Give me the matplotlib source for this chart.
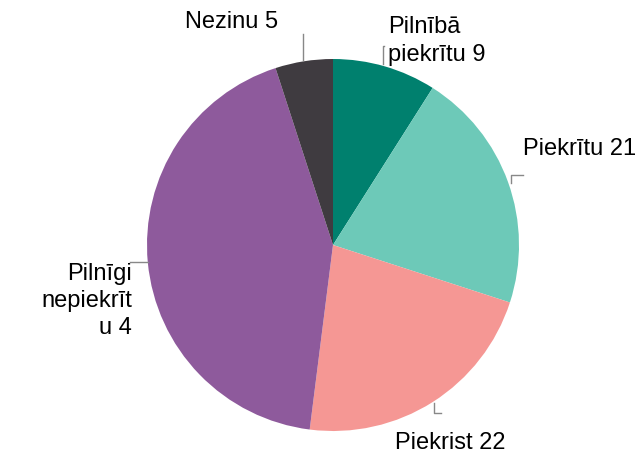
import matplotlib.pyplot as plt

# slices clockwise from the top
categories = ['Pilnībā piekrītu', 'Piekrītu', 'Piekrist', 'Pilnīgi nepiekrītu', 'Nezinu']
values = [9, 21, 22, 43, 5]
labels = ['Pilnībā\npiekrītu 9', 'Piekrītu 21', 'Piekrist 22', 'Pilnīgi\nnepiekrīt\nu 4', 'Nezinu 5']
colors = ['#00806e', '#6dc9b8', '#f59794', '#8e5a9c', '#3f3b40']

plt.rcParams['font.family'] = ['Liberation Sans', 'DejaVu Sans']

fig = plt.figure(figsize=(6.36, 4.57), dpi=100)
# pie centre ~ (333, 245) px, radius ~186 px
cx, cy, r = 333, 245, 186
ax = fig.add_axes([(cx - r) / 636, (457 - cy - r) / 457, 2 * r / 636, 2 * r / 457])
ax.pie(values, colors=colors, startangle=90, counterclock=False, radius=1)
ax.set_xlim(-1, 1)
ax.set_ylim(-1, 1)
ax.axis('off')

def d(px, py):
    return (px - cx) / r, (cy - py) / r

# label text placement (pixel positions)
text_pos = [(388, 41, 'left'), (523, 149, 'left'), (395, 443, 'left'),
            (132, 301, 'right'), (278, 22, 'right')]
for lab, (px, py, ha) in zip(labels, text_pos):
    x, y = d(px, py)
    ax.text(x, y, lab, ha=ha, va='center', fontsize=17, color='black',
            linespacing=1.3, clip_on=False)

# little leader marks
lc = '#888888'
leaders = [
    [(384, 46), (383, 46), (383, 64)],
    [(523, 175), (511, 175), (511, 183)],
    [(434, 403), (434, 413), (441, 413)],
    [(130, 262), (148, 262)],
    [(303, 34), (303, 60)],
]
for pts in leaders:
    xs, ys = zip(*[d(px, py) for px, py in pts])
    ax.plot(xs, ys, color=lc, lw=1, clip_on=False)

fig.savefig('out.png', dpi=100)
